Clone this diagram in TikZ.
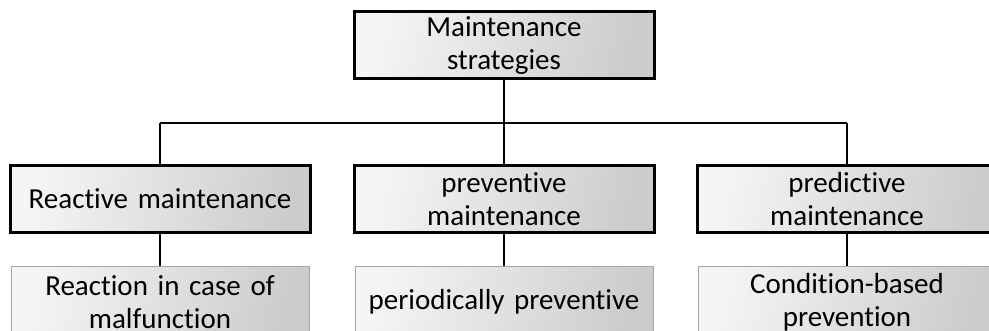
\documentclass[tikz,border=0pt]{standalone}
\usepackage{fontspec}
\setmainfont{Carlito}[Ligatures=NoCommon]
\begin{document}
\begin{tikzpicture}[x=1pt,y=-1pt,
  base/.style={rectangle, minimum width=300pt, minimum height=67pt, text width=290pt,
    align=center, inner sep=0pt, font=\fontsize{29}{33}\selectfont,
    left color=black!4, right color=black!20, shading angle=75},
  mainbox/.style={base, draw=black, line width=3pt},
  subbox/.style={base, draw=black!35, line width=1pt, minimum width=298pt, minimum height=70pt},
  conn/.style={draw=black, line width=2pt}]
\useasboundingbox (0,0) rectangle (989,331);
\clip (0,0) rectangle (989,331);
\node[mainbox] (ms) at (504,45.5) {Maintenance\\strategies};
\node[mainbox] (rm) at (160,199) {Reactive maintenance};
\node[mainbox] (pm) at (504,199) {preventive\\maintenance};
\node[mainbox] (dm) at (847,199) {predictive\\maintenance};
\node[subbox] (rr) at (160,302) {Reaction in case of\\malfunction};
\node[subbox] (pp) at (504,302) {periodically preventive};
\node[subbox] (cb) at (847,302) {Condition-based\\prevention};
\coordinate (bl) at (160,123);
\coordinate (br) at (847,123);
\draw[conn] (ms.south) -- (ms.south |- bl);
\draw[conn] (bl) -- (br);
\draw[conn] (bl) -- (rm.north);
\draw[conn] (pm.north |- bl) -- (pm.north);
\draw[conn] (br) -- (dm.north);
\draw[conn] (rm.south) -- (rr.north);
\draw[conn] (pm.south) -- (pp.north);
\draw[conn] (dm.south) -- (cb.north);
\end{tikzpicture}
\end{document}
